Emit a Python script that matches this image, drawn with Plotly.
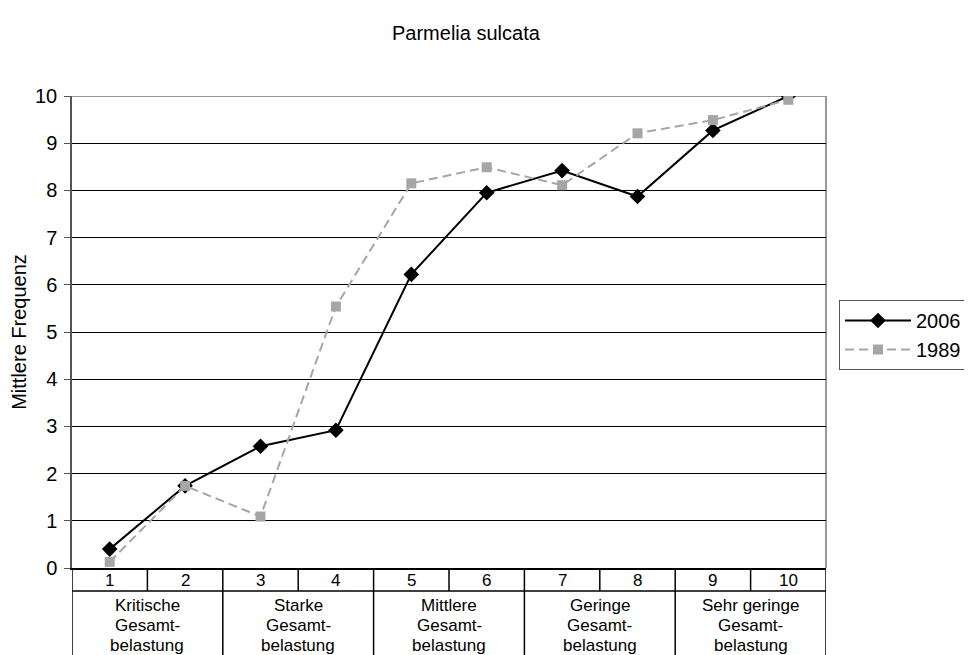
import plotly.graph_objects as go

categories = [1, 2, 3, 4, 5, 6, 7, 8, 9, 10]
series_2006 = [0.40, 1.74, 2.58, 2.92, 6.22, 7.95, 8.42, 7.87, 9.27, 10.0]
series_1989 = [0.13, 1.74, 1.09, 5.54, 8.15, 8.49, 8.11, 9.21, 9.49, 9.92]
group_labels = [["Kritische", "Gesamt-", "belastung"],
                ["Starke", "Gesamt-", "belastung"],
                ["Mittlere", "Gesamt-", "belastung"],
                ["Geringe", "Gesamt-", "belastung"],
                ["Sehr geringe", "Gesamt-", "belastung"]]
y_ticks = [0, 1, 2, 3, 4, 5, 6, 7, 8, 9, 10]

FONT = "Arial, Liberation Sans, sans-serif"
OFF = 8  # default body margin of the page
W, H = 972 - OFF, 655 - OFF
PL, PR, PT, PB = 72, 826, 96, 568  # plot area in page pixels
L, T = PL - OFF, PT - OFF
R = W - (PR - OFF)
B = H - (PB - OFF)
plot_w = PR - PL
plot_h = PB - PT

def pxy(ypx):
    return (PB - ypx) / plot_h

def pxx(xpx):
    return (xpx - PL) / plot_w

fig = go.Figure()
fig.add_trace(go.Scatter(
    x=categories, y=series_2006, name="2006", mode="lines+markers",
    line=dict(color="black", width=2),
    marker=dict(symbol="diamond", size=12, color="black"),
))
fig.add_trace(go.Scatter(
    x=categories, y=series_1989, name="1989", mode="lines+markers",
    line=dict(color="#a6a6a6", width=2, dash="9px,5px"),
    marker=dict(symbol="square", size=10, color="#a6a6a6"),
))

shapes = []
shapes.append(dict(type="line", xref="paper", yref="y", x0=0, x1=1, y0=10, y1=10,
                   line=dict(color="#999999", width=2), layer="between"))
shapes.append(dict(type="line", xref="paper", yref="paper", x0=1, x1=1, y0=0, y1=1,
                   line=dict(color="#999999", width=2), layer="between"))
row1 = pxy(591)
bottom = pxy(670)
shapes.append(dict(type="line", xref="paper", yref="paper", x0=0, x1=1, y0=row1, y1=row1,
                   line=dict(color="black", width=1.5)))
for i in range(11):
    xb = 0.5 + i
    y0 = bottom if i % 2 == 0 else row1
    shapes.append(dict(type="line", xref="x", yref="paper", x0=xb, x1=xb, y0=0, y1=y0,
                       line=dict(color="black", width=1.5)))

TBL = 17
annotations = []
for c in categories:
    annotations.append(dict(x=c, y=pxy(580), xref="x", yref="paper", text=str(c),
                            showarrow=False, font=dict(size=TBL, color="black", family=FONT),
                            yanchor="middle"))
line_centers = [605, 625, 645]
for gi, lines in enumerate(group_labels):
    for li, txt in enumerate(lines):
        annotations.append(dict(x=1.5 + 2 * gi, y=pxy(line_centers[li]), xref="x", yref="paper",
                                text=txt, showarrow=False,
                                font=dict(size=TBL, color="black", family=FONT),
                                yanchor="middle"))
annotations.append(dict(x=pxx(466), y=pxy(33), xref="paper", yref="paper",
                        text="Parmelia sulcata", showarrow=False,
                        font=dict(size=20, color="black", family=FONT), yanchor="middle"))

fig.update_layout(
    width=W, height=H,
    margin=dict(l=L, r=R, t=T, b=B, autoexpand=False),
    paper_bgcolor="white", plot_bgcolor="white",
    font=dict(family=FONT, color="black", size=20),
    showlegend=True,
    legend=dict(x=pxx(839), y=pxy(300), xanchor="left", yanchor="top",
                bordercolor="#555555", borderwidth=1, font=dict(size=20, family=FONT),
                itemwidth=66, bgcolor="white", tracegroupgap=0),
    shapes=shapes, annotations=annotations,
    xaxis=dict(range=[0.5, 10.5], showgrid=False, zeroline=False, showticklabels=False,
               ticks="", showline=True, linecolor="black", linewidth=1.5, fixedrange=True),
    yaxis=dict(range=[0, 10], tickvals=y_ticks, showgrid=True, gridcolor="black", gridwidth=1,
               zeroline=False, showline=True, linecolor="#555555", linewidth=1.5,
               ticks="outside", ticklen=6, tickcolor="#555555",
               tickfont=dict(size=20, family=FONT), ticklabelstandoff=3,
               title=dict(text="Mittlere Frequenz", font=dict(size=20, family=FONT), standoff=6)),
)

fig.write_html("out.html")
